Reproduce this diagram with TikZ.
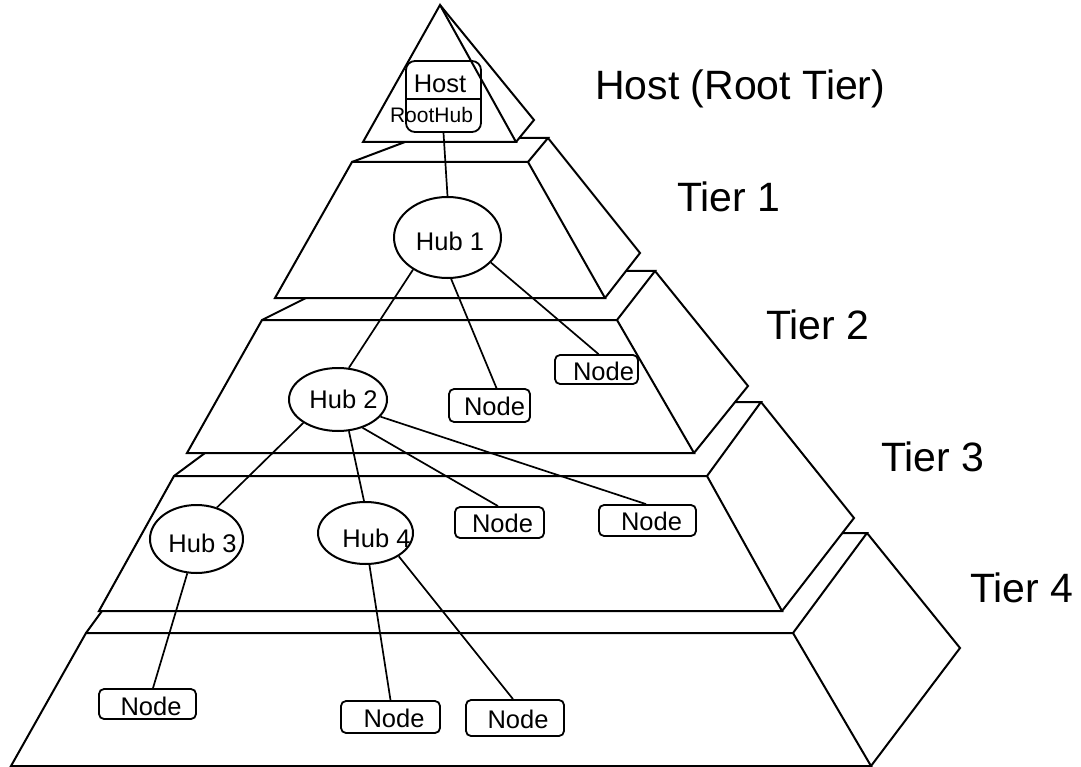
\documentclass[tikz,border=0pt]{standalone}
\usepackage{fontspec}
\setmainfont{Liberation Sans}
\usetikzlibrary{shapes.geometric}
\begin{document}
\begin{tikzpicture}[x=1pt,y=-1pt,
  tier/.style={line width=2pt, line join=miter},
  link/.style={line width=1.7pt},
  hub/.style={draw, ellipse, line width=2pt, inner sep=0pt},
  nbox/.style={draw, rounded corners=5pt, line width=1.8pt, inner sep=0pt},
  txt/.style={font=\fontsize{25.5}{30}\selectfont, inner sep=0pt},
  tierlabel/.style={font=\fontsize{41}{48}\selectfont, inner sep=0pt, anchor=base west},
]
\useasboundingbox (0,0) rectangle (1081,767);

% Root tier (triangle)
\draw[tier] (440,5) -- (363,142) -- (516,142) -- cycle;
\draw[tier] (440,5) -- (534,120) -- (516,142);
% Tier 1
\draw[tier] (352,162) -- (528,162) -- (605,298) -- (275,298) -- cycle;
\draw[tier] (352,162) -- (405,142);
\draw[tier] (528,162) -- (548,138) -- (519,138);
\draw[tier] (548,138) -- (640,253) -- (605,298);
% Tier 2
\draw[tier] (262,320) -- (617,320) -- (694,453) -- (187,453) -- cycle;
\draw[tier] (262,320) -- (306,298);
\draw[tier] (617,320) -- (655,271) -- (626,271);
\draw[tier] (655,271) -- (748,386) -- (694,453);
% Tier 3
\draw[tier] (174,476) -- (707,476) -- (782,611) -- (99,611) -- cycle;
\draw[tier] (174,476) -- (205,453);
\draw[tier] (707,476) -- (761,402) -- (735,402);
\draw[tier] (761,402) -- (854,518) -- (782,611);
% Tier 4
\draw[tier] (86,633) -- (793,633) -- (871,766) -- (11,766) -- cycle;
\draw[tier] (86,633) -- (102,611);
\draw[tier] (793,633) -- (867,533) -- (842,533);
\draw[tier] (867,533) -- (960,648) -- (871,766);

% Tier labels
\node[tierlabel] (l0) at (595,100) {Host (Root Tier)};
\node[tierlabel] (l1) at (677,212) {Tier 1};
\node[tierlabel] (l2) at (766,339) {Tier 2};
\node[tierlabel] (l3) at (881,471) {Tier 3};
\node[tierlabel] (l4) at (970,602) {Tier 4};

% Host / RootHub box
\node[draw, rounded corners=9pt, line width=1.8pt, minimum width=75pt, minimum height=71pt, inner sep=0pt] (host) at (443.5,96.5) {};
\draw[line width=1.8pt] ([yshift=-2.5pt]host.west) -- ([yshift=-2.5pt]host.east);
\node[txt, anchor=base] (hosttxt) at (440,93) {Host};
\node[font=\fontsize{21}{25}\selectfont, inner sep=0pt, anchor=base] (roothubtxt) at (431.5,123) {RootHub};

% Hubs
\node[hub, minimum width=107pt, minimum height=81pt, label={[txt,xshift=2.5pt,yshift=-3.5pt]center:Hub 1}] (hub1) at (447.5,237.5) {};
\node[hub, minimum width=98pt, minimum height=63pt, label={[txt,xshift=5.5pt]center:Hub 2}] (hub2) at (338,399.5) {};
\node[hub, minimum width=93pt, minimum height=68pt, label={[txt,xshift=6pt,yshift=-4pt]center:Hub 3}] (hub3) at (196.5,539) {};
\node[hub, minimum width=95pt, minimum height=62pt, label={[txt,xshift=11pt,yshift=-5pt]center:Hub 4}] (hub4) at (365.5,533) {};

% Device nodes
\node[nbox, minimum width=81pt, minimum height=33pt, label={[txt,xshift=5pt,yshift=-1pt]center:Node}] (nA) at (489.5,405.5) {};
\node[nbox, minimum width=83pt, minimum height=29pt, label={[txt,xshift=7pt,yshift=-1.5pt]center:Node}] (nB) at (596.5,369.5) {};
\node[nbox, minimum width=89pt, minimum height=31pt, label={[txt,xshift=3pt,yshift=-1pt]center:Node}] (nC) at (499.5,522.5) {};
\node[nbox, minimum width=97pt, minimum height=31pt, label={[txt,xshift=4pt,yshift=-1pt]center:Node}] (nD) at (647.5,520.5) {};
\node[nbox, minimum width=97pt, minimum height=30pt, label={[txt,xshift=3.5pt,yshift=-2.5pt]center:Node}] (nE) at (147.5,704) {};
\node[nbox, minimum width=99pt, minimum height=32pt, label={[txt,xshift=3.5pt,yshift=-1pt]center:Node}] (nF) at (390.5,717) {};
\node[nbox, minimum width=98pt, minimum height=36pt, label={[txt,xshift=3pt,yshift=-1pt]center:Node}] (nG) at (515,718) {};

% Connectors
\draw[link] (host.south) -- (hub1.north);
\draw[link] (hub1.223) -- (hub2.71);
\draw[link] (hub1.275) -- ([xshift=7pt]nA.north);
\draw[link] (hub1.330) -- ([xshift=2pt]nB.north);
\draw[link] (hub2.214) -- (hub3.57);
\draw[link] (hub2.289) -- ([xshift=-1.5pt]hub4.north);
\draw[link] (hub2.311) -- ([xshift=-1.5pt]nC.north);
\draw[link] (hub2.338) -- ([xshift=-1.5pt]nD.north);
\draw[link] (hub3.255) -- ([xshift=5.5pt]nE.north);
\draw[link] (hub4.277) -- (nF.north);
\draw[link] (hub4.325) -- ([xshift=-2pt]nG.north);
\end{tikzpicture}
\end{document}
